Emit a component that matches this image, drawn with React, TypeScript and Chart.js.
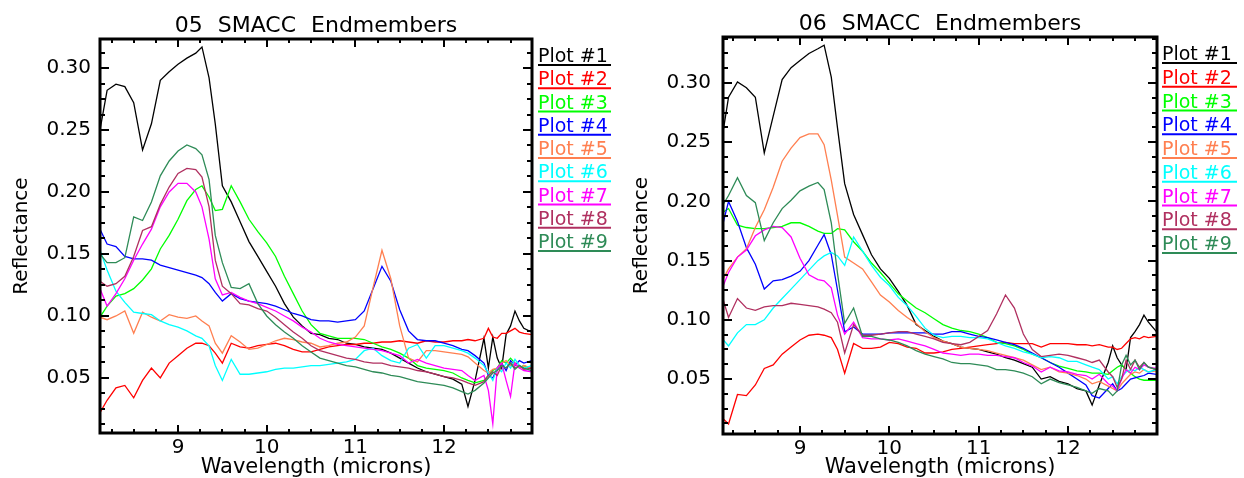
import React, { useEffect, useRef } from "react";
import { Chart, registerables } from "chart.js";

Chart.register(...registerables);

// ---------------- data ----------------
const WAVELENGTHS = [
  8.12, 8.2, 8.3, 8.4, 8.5, 8.6, 8.7, 8.8, 8.9, 9.0, 9.1, 9.2, 9.27, 9.35, 9.42,
  9.5, 9.6, 9.7, 9.8, 9.9, 10.0, 10.1, 10.2, 10.3, 10.4, 10.5, 10.6, 10.7, 10.8,
  10.9, 11.0, 11.1, 11.2, 11.3, 11.4, 11.5, 11.6, 11.7, 11.8, 11.9, 12.0, 12.1,
  12.2, 12.27, 12.35, 12.45, 12.5, 12.55, 12.6, 12.65, 12.7, 12.75, 12.8, 12.85,
  12.9, 12.99,
];

const SERIES_LABELS = ["Plot #1", "Plot #2", "Plot #3", "Plot #4", "Plot #5", "Plot #6", "Plot #7", "Plot #8", "Plot #9"];
const SERIES_COLORS = ["#000000", "#ff0000", "#00ff00", "#0000ff", "#ff7f50", "#00ffff", "#ff00ff", "#b03060", "#2e8b57"];

const X_TICKS_STEP = 1;
const Y_TICKS_STEP = 0.05;

// 05 SMACC Endmembers
const S05_PLOT1 = [0.250, 0.282, 0.287, 0.285, 0.272, 0.234, 0.255, 0.290, 0.297, 0.303, 0.308, 0.312, 0.317, 0.292, 0.255, 0.205, 0.192, 0.176, 0.160, 0.148, 0.136, 0.124, 0.110, 0.099, 0.092, 0.086, 0.085, 0.082, 0.081, 0.078, 0.077, 0.075, 0.074, 0.073, 0.070, 0.066, 0.062, 0.058, 0.055, 0.053, 0.051, 0.049, 0.045, 0.027, 0.048, 0.082, 0.058, 0.083, 0.066, 0.058, 0.085, 0.092, 0.104, 0.096, 0.090, 0.087];
const S05_PLOT2 = [0.022, 0.032, 0.042, 0.044, 0.034, 0.048, 0.058, 0.050, 0.062, 0.068, 0.074, 0.078, 0.078, 0.076, 0.070, 0.062, 0.078, 0.075, 0.074, 0.076, 0.077, 0.078, 0.076, 0.073, 0.071, 0.071, 0.073, 0.075, 0.076, 0.077, 0.077, 0.078, 0.078, 0.079, 0.079, 0.080, 0.079, 0.078, 0.080, 0.079, 0.079, 0.080, 0.080, 0.081, 0.080, 0.082, 0.090, 0.083, 0.082, 0.086, 0.086, 0.088, 0.090, 0.087, 0.086, 0.085];
const S05_PLOT3 = [0.099, 0.108, 0.116, 0.118, 0.122, 0.129, 0.138, 0.154, 0.165, 0.178, 0.193, 0.202, 0.205, 0.196, 0.185, 0.186, 0.205, 0.192, 0.178, 0.168, 0.159, 0.148, 0.132, 0.118, 0.104, 0.093, 0.086, 0.084, 0.082, 0.082, 0.082, 0.081, 0.078, 0.075, 0.073, 0.070, 0.066, 0.060, 0.058, 0.057, 0.056, 0.054, 0.050, 0.048, 0.046, 0.048, 0.052, 0.056, 0.058, 0.064, 0.062, 0.066, 0.062, 0.058, 0.060, 0.057];
const S05_PLOT4 = [0.170, 0.158, 0.156, 0.148, 0.146, 0.146, 0.145, 0.141, 0.139, 0.137, 0.135, 0.133, 0.131, 0.126, 0.119, 0.112, 0.118, 0.114, 0.112, 0.111, 0.110, 0.108, 0.105, 0.102, 0.100, 0.097, 0.096, 0.096, 0.095, 0.096, 0.097, 0.104, 0.122, 0.140, 0.128, 0.105, 0.088, 0.081, 0.080, 0.080, 0.078, 0.076, 0.073, 0.072, 0.068, 0.062, 0.052, 0.050, 0.058, 0.062, 0.056, 0.064, 0.060, 0.064, 0.062, 0.064];
const S05_PLOT5 = [0.099, 0.097, 0.100, 0.104, 0.086, 0.103, 0.099, 0.096, 0.101, 0.099, 0.098, 0.100, 0.096, 0.092, 0.078, 0.070, 0.084, 0.079, 0.073, 0.074, 0.077, 0.080, 0.082, 0.081, 0.079, 0.078, 0.075, 0.076, 0.078, 0.079, 0.083, 0.092, 0.123, 0.153, 0.130, 0.092, 0.066, 0.063, 0.072, 0.072, 0.071, 0.070, 0.069, 0.067, 0.062, 0.056, 0.054, 0.057, 0.058, 0.062, 0.064, 0.060, 0.062, 0.058, 0.060, 0.058];
const S05_PLOT6 = [0.153, 0.137, 0.120, 0.111, 0.103, 0.102, 0.101, 0.096, 0.093, 0.091, 0.088, 0.084, 0.082, 0.076, 0.060, 0.048, 0.065, 0.053, 0.053, 0.054, 0.055, 0.057, 0.058, 0.058, 0.059, 0.060, 0.060, 0.061, 0.062, 0.063, 0.065, 0.072, 0.074, 0.068, 0.064, 0.062, 0.074, 0.077, 0.066, 0.076, 0.076, 0.074, 0.072, 0.070, 0.066, 0.060, 0.054, 0.048, 0.058, 0.055, 0.062, 0.058, 0.065, 0.060, 0.058, 0.060];
const S05_PLOT7 = [0.122, 0.108, 0.118, 0.130, 0.145, 0.158, 0.170, 0.188, 0.200, 0.207, 0.207, 0.200, 0.188, 0.162, 0.130, 0.117, 0.119, 0.115, 0.112, 0.110, 0.107, 0.104, 0.100, 0.096, 0.091, 0.087, 0.082, 0.079, 0.077, 0.076, 0.075, 0.074, 0.073, 0.072, 0.070, 0.068, 0.062, 0.065, 0.062, 0.060, 0.058, 0.057, 0.056, 0.052, 0.048, 0.052, 0.040, 0.013, 0.058, 0.062, 0.048, 0.035, 0.062, 0.058, 0.056, 0.055];
const S05_PLOT8 = [0.128, 0.124, 0.126, 0.132, 0.148, 0.169, 0.172, 0.190, 0.204, 0.215, 0.219, 0.218, 0.212, 0.188, 0.145, 0.124, 0.118, 0.110, 0.109, 0.106, 0.104, 0.099, 0.093, 0.087, 0.082, 0.076, 0.072, 0.070, 0.068, 0.066, 0.065, 0.063, 0.062, 0.062, 0.060, 0.059, 0.058, 0.056, 0.055, 0.053, 0.051, 0.050, 0.048, 0.046, 0.044, 0.047, 0.052, 0.055, 0.052, 0.060, 0.058, 0.062, 0.058, 0.060, 0.057, 0.058];
const S05_PLOT9 = [0.150, 0.143, 0.143, 0.147, 0.180, 0.177, 0.192, 0.213, 0.225, 0.233, 0.238, 0.235, 0.230, 0.210, 0.165, 0.143, 0.123, 0.122, 0.126, 0.110, 0.100, 0.093, 0.087, 0.082, 0.076, 0.071, 0.066, 0.064, 0.062, 0.060, 0.059, 0.057, 0.055, 0.054, 0.052, 0.051, 0.049, 0.047, 0.046, 0.045, 0.044, 0.042, 0.039, 0.037, 0.040, 0.046, 0.050, 0.054, 0.056, 0.060, 0.058, 0.062, 0.057, 0.060, 0.058, 0.056];

// 06 SMACC Endmembers
const S06_PLOT1 = [0.250, 0.288, 0.301, 0.296, 0.288, 0.241, 0.272, 0.303, 0.313, 0.319, 0.325, 0.329, 0.332, 0.305, 0.262, 0.215, 0.189, 0.172, 0.155, 0.143, 0.135, 0.124, 0.112, 0.096, 0.091, 0.086, 0.082, 0.080, 0.077, 0.076, 0.075, 0.073, 0.071, 0.068, 0.066, 0.063, 0.060, 0.050, 0.052, 0.048, 0.046, 0.042, 0.040, 0.028, 0.045, 0.064, 0.078, 0.068, 0.062, 0.058, 0.085, 0.090, 0.096, 0.104, 0.098, 0.090];
const S06_PLOT2 = [0.018, 0.012, 0.037, 0.036, 0.045, 0.059, 0.062, 0.071, 0.077, 0.083, 0.087, 0.088, 0.087, 0.085, 0.075, 0.055, 0.080, 0.076, 0.076, 0.077, 0.081, 0.080, 0.077, 0.076, 0.072, 0.072, 0.073, 0.075, 0.076, 0.077, 0.078, 0.079, 0.080, 0.081, 0.080, 0.080, 0.080, 0.077, 0.080, 0.080, 0.080, 0.079, 0.079, 0.078, 0.079, 0.077, 0.077, 0.075, 0.076, 0.080, 0.084, 0.085, 0.084, 0.086, 0.085, 0.086];
const S06_PLOT3 = [0.190, 0.194, 0.180, 0.178, 0.177, 0.177, 0.178, 0.179, 0.182, 0.182, 0.179, 0.175, 0.173, 0.173, 0.177, 0.176, 0.166, 0.158, 0.148, 0.140, 0.131, 0.122, 0.116, 0.110, 0.106, 0.101, 0.096, 0.093, 0.091, 0.090, 0.088, 0.085, 0.081, 0.080, 0.078, 0.075, 0.071, 0.068, 0.064, 0.061, 0.059, 0.057, 0.056, 0.055, 0.055, 0.054, 0.057, 0.060, 0.062, 0.058, 0.055, 0.052, 0.050, 0.049, 0.049, 0.049];
const S06_PLOT4 = [0.176, 0.200, 0.183, 0.161, 0.147, 0.126, 0.133, 0.134, 0.137, 0.141, 0.150, 0.163, 0.172, 0.155, 0.125, 0.090, 0.094, 0.088, 0.088, 0.088, 0.089, 0.089, 0.089, 0.089, 0.089, 0.088, 0.088, 0.090, 0.090, 0.088, 0.086, 0.085, 0.083, 0.081, 0.079, 0.076, 0.072, 0.068, 0.064, 0.060, 0.055, 0.050, 0.045, 0.036, 0.034, 0.042, 0.046, 0.040, 0.042, 0.046, 0.050, 0.051, 0.052, 0.053, 0.055, 0.054];
const S06_PLOT5 = [0.132, 0.143, 0.153, 0.160, 0.178, 0.193, 0.212, 0.234, 0.245, 0.254, 0.257, 0.257, 0.248, 0.218, 0.188, 0.153, 0.148, 0.143, 0.132, 0.121, 0.115, 0.108, 0.102, 0.097, 0.090, 0.085, 0.082, 0.080, 0.077, 0.076, 0.075, 0.074, 0.072, 0.070, 0.068, 0.066, 0.062, 0.058, 0.060, 0.056, 0.055, 0.053, 0.050, 0.046, 0.048, 0.044, 0.042, 0.040, 0.046, 0.050, 0.054, 0.056, 0.055, 0.058, 0.056, 0.057];
const S06_PLOT6 = [0.085, 0.078, 0.089, 0.096, 0.096, 0.100, 0.110, 0.118, 0.126, 0.134, 0.142, 0.150, 0.154, 0.157, 0.154, 0.146, 0.170, 0.158, 0.146, 0.136, 0.129, 0.119, 0.112, 0.103, 0.093, 0.087, 0.085, 0.086, 0.086, 0.085, 0.085, 0.084, 0.081, 0.078, 0.076, 0.073, 0.071, 0.068, 0.069, 0.068, 0.065, 0.065, 0.062, 0.060, 0.058, 0.050, 0.052, 0.046, 0.052, 0.056, 0.058, 0.057, 0.060, 0.058, 0.056, 0.058];
const S06_PLOT7 = [0.125, 0.140, 0.153, 0.159, 0.171, 0.176, 0.179, 0.178, 0.170, 0.152, 0.138, 0.134, 0.133, 0.127, 0.104, 0.088, 0.098, 0.085, 0.084, 0.084, 0.083, 0.084, 0.082, 0.080, 0.078, 0.075, 0.072, 0.071, 0.070, 0.071, 0.071, 0.070, 0.070, 0.069, 0.068, 0.064, 0.061, 0.056, 0.060, 0.057, 0.056, 0.054, 0.053, 0.050, 0.054, 0.046, 0.044, 0.040, 0.050, 0.058, 0.055, 0.060, 0.058, 0.062, 0.060, 0.059];
const S06_PLOT8 = [0.122, 0.102, 0.118, 0.110, 0.108, 0.111, 0.112, 0.112, 0.114, 0.113, 0.112, 0.111, 0.109, 0.106, 0.098, 0.072, 0.096, 0.087, 0.087, 0.088, 0.089, 0.090, 0.090, 0.088, 0.086, 0.084, 0.081, 0.080, 0.079, 0.081, 0.086, 0.091, 0.105, 0.121, 0.110, 0.088, 0.075, 0.069, 0.070, 0.071, 0.070, 0.068, 0.066, 0.064, 0.066, 0.056, 0.052, 0.043, 0.050, 0.066, 0.058, 0.066, 0.060, 0.064, 0.060, 0.058];
const S06_PLOT9 = [0.195, 0.205, 0.220, 0.205, 0.199, 0.167, 0.182, 0.194, 0.201, 0.209, 0.213, 0.216, 0.210, 0.182, 0.139, 0.097, 0.110, 0.086, 0.086, 0.084, 0.083, 0.081, 0.078, 0.074, 0.071, 0.069, 0.067, 0.064, 0.063, 0.063, 0.062, 0.061, 0.058, 0.058, 0.057, 0.055, 0.052, 0.046, 0.050, 0.047, 0.045, 0.043, 0.040, 0.038, 0.042, 0.040, 0.036, 0.040, 0.062, 0.070, 0.062, 0.066, 0.058, 0.064, 0.060, 0.058];

const SERIES_05 = [S05_PLOT1, S05_PLOT2, S05_PLOT3, S05_PLOT4, S05_PLOT5, S05_PLOT6, S05_PLOT7, S05_PLOT8, S05_PLOT9];
const SERIES_06 = [S06_PLOT1, S06_PLOT2, S06_PLOT3, S06_PLOT4, S06_PLOT5, S06_PLOT6, S06_PLOT7, S06_PLOT8, S06_PLOT9];

// ---------------- drawing helpers ----------------
const FONT = '"DejaVu Sans", "Liberation Sans", sans-serif';

const decorPlugin = {
  id: "idlDecor",
  afterDraw(chart: any, _args: any, opts: any) {
    const { ctx, chartArea: a } = chart;
    const xs = chart.scales.x;
    const ys = chart.scales.y;
    ctx.save();
    ctx.strokeStyle = "#000";
    ctx.lineCap = "butt";

    // tick marks, all four sides, pointing inward
    ctx.lineWidth = 2;
    ctx.beginPath();
    const xMinorStep = X_TICKS_STEP / 4;
    const xStart = Math.ceil(xs.min / xMinorStep - 1e-9) * xMinorStep;
    for (let k = 0; ; k++) {
      const v = xStart + k * xMinorStep;
      if (v > xs.max + 1e-9) break;
      const px = Math.round(xs.getPixelForValue(v)) + 0.0;
      const major = Math.abs(v / X_TICKS_STEP - Math.round(v / X_TICKS_STEP)) < 1e-6;
      const len = major ? 8 : 4;
      ctx.moveTo(px, a.bottom);
      ctx.lineTo(px, a.bottom - len);
      ctx.moveTo(px, a.top);
      ctx.lineTo(px, a.top + len);
    }
    const yMinorStep = Y_TICKS_STEP / 4;
    const yStart = Math.ceil(ys.min / yMinorStep - 1e-9) * yMinorStep;
    for (let k = 0; ; k++) {
      const v = yStart + k * yMinorStep;
      if (v > ys.max + 1e-9) break;
      const py = Math.round(ys.getPixelForValue(v));
      const major = Math.abs(v / Y_TICKS_STEP - Math.round(v / Y_TICKS_STEP)) < 1e-6;
      const len = major ? 9 : 5;
      ctx.moveTo(a.left, py);
      ctx.lineTo(a.left + len, py);
      ctx.moveTo(a.right, py);
      ctx.lineTo(a.right - len, py);
    }
    ctx.stroke();

    // plot box
    ctx.lineWidth = 3;
    ctx.strokeRect(a.left, a.top, a.right - a.left, a.bottom - a.top);

    // chart title
    ctx.fillStyle = "#000";
    ctx.textAlign = "center";
    ctx.textBaseline = "alphabetic";
    ctx.font = `22px ${FONT}`;
    (ctx as any).wordSpacing = "8px";
    ctx.fillText(opts.title, (a.left + a.right) / 2, a.top - opts.titleGap);
    (ctx as any).wordSpacing = "0px";

    // x axis title
    ctx.font = `21px ${FONT}`;
    ctx.fillText(opts.xTitle, (a.left + a.right) / 2, a.bottom + opts.xTitleGap);

    // y axis title
    ctx.save();
    ctx.font = `20px ${FONT}`;
    ctx.translate(opts.yTitleX, (a.top + a.bottom) / 2);
    ctx.rotate(-Math.PI / 2);
    ctx.fillText(opts.yTitle, 0, 0);
    ctx.restore();

    // legend: coloured label with underline
    ctx.textAlign = "left";
    ctx.font = `19px ${FONT}`;
    const x0 = a.right + opts.legendGap;
    chart.data.datasets.forEach((ds: any, i: number) => {
      const y = opts.legendTop + i * opts.legendStep;
      ctx.fillStyle = ds.borderColor;
      ctx.fillText(ds.label, x0, y - 3);
      ctx.strokeStyle = ds.borderColor;
      ctx.lineWidth = 2;
      ctx.beginPath();
      ctx.moveTo(x0, y);
      ctx.lineTo(x0 + opts.legendWidth, y);
      ctx.stroke();
    });
    ctx.restore();
  },
};

function buildDatasets(series: number[][]) {
  return series.map((vals, i) => ({
    label: SERIES_LABELS[i],
    data: WAVELENGTHS.map((w, k) => ({ x: w, y: vals[k] })),
    borderColor: SERIES_COLORS[i],
    backgroundColor: SERIES_COLORS[i],
    borderWidth: 1.3,
    pointRadius: 0,
    pointHoverRadius: 0,
    tension: 0,
    fill: false,
    order: -i,
  }));
}

type Cfg = {
  left: number;
  title: string;
  series: number[][];
  xMin: number;
  xMax: number;
  yMin: number;
  yMax: number;
  padTop: number;
  padRight: number;
  yAxisWidth: number;
  xAxisHeight: number;
  yTickPad: number;
  xTickPad: number;
  titleGap: number;
  xTitleGap: number;
  yTitleX: number;
  legendGap: number;
  legendTop: number;
  legendStep: number;
  legendWidth: number;
};

function SpectraChart({ cfg }: { cfg: Cfg }) {
  const ref = useRef<HTMLCanvasElement>(null);
  useEffect(() => {
    const tickFont = { family: FONT, size: 20 };
    const chart = new Chart(ref.current as HTMLCanvasElement, {
      type: "line",
      data: { datasets: buildDatasets(cfg.series) as any },
      options: {
        animation: false,
        responsive: false,
        devicePixelRatio: 1,
        events: [],
        layout: { padding: { left: 0, top: cfg.padTop, right: cfg.padRight, bottom: 0 } },
        plugins: {
          legend: { display: false },
          tooltip: { enabled: false },
          title: { display: false },
          idlDecor: {
            title: cfg.title,
            xTitle: "Wavelength (microns)",
            yTitle: "Reflectance",
            titleGap: cfg.titleGap,
            xTitleGap: cfg.xTitleGap,
            yTitleX: cfg.yTitleX,
            legendGap: cfg.legendGap,
            legendTop: cfg.legendTop,
            legendStep: cfg.legendStep,
            legendWidth: cfg.legendWidth,
          },
        } as any,
        scales: {
          x: {
            type: "linear",
            min: cfg.xMin,
            max: cfg.xMax,
            grid: { display: false, drawTicks: false },
            border: { display: false },
            ticks: {
              stepSize: X_TICKS_STEP,
              includeBounds: false,
              autoSkip: false,
              maxRotation: 0,
              padding: cfg.xTickPad,
              color: "#000",
              font: tickFont,
              callback: (v: any) => String(Math.round(Number(v))),
            },
            afterFit: (s: any) => {
              s.height = cfg.xAxisHeight;
            },
          },
          y: {
            type: "linear",
            min: cfg.yMin,
            max: cfg.yMax,
            grid: { display: false, drawTicks: false },
            border: { display: false },
            ticks: {
              stepSize: Y_TICKS_STEP,
              includeBounds: false,
              autoSkip: false,
              padding: cfg.yTickPad,
              color: "#000",
              font: tickFont,
              callback: (v: any) => Number(v).toFixed(2),
            },
            afterFit: (s: any) => {
              s.width = cfg.yAxisWidth;
            },
          },
        },
      },
      plugins: [decorPlugin as any],
    });
    return () => chart.destroy();
  }, [cfg]);
  return (
    <canvas
      ref={ref}
      width={622}
      height={478}
      style={{ position: "absolute", left: cfg.left, top: 0, width: 622, height: 478, display: "block" }}
    />
  );
}

const CFG_05: Cfg = {
  left: 0,
  title: "05 SMACC Endmembers",
  series: SERIES_05,
  xMin: 8.12,
  xMax: 12.992,
  yMin: 0.0056,
  yMax: 0.3234,
  padTop: 39,
  padRight: 90,
  yAxisWidth: 100,
  xAxisHeight: 45,
  yTickPad: 9,
  xTickPad: 3,
  titleGap: 7,
  xTitleGap: 40,
  yTitleX: 27,
  legendGap: 6,
  legendTop: 65,
  legendStep: 23.25,
  legendWidth: 73,
};

const CFG_06: Cfg = {
  left: 622,
  title: "06 SMACC Endmembers",
  series: SERIES_06,
  xMin: 8.138,
  xMax: 12.996,
  yMin: 0.0036,
  yMax: 0.3389,
  padTop: 37,
  padRight: 87,
  yAxisWidth: 101,
  xAxisHeight: 44,
  yTickPad: 12,
  xTickPad: 3,
  titleGap: 7,
  xTitleGap: 39,
  yTitleX: 25,
  legendGap: 5,
  legendTop: 63,
  legendStep: 23.75,
  legendWidth: 75,
};

export default function App() {
  return (
    <div style={{ position: "fixed", left: 0, top: 0, width: 1244, height: 478, background: "#fff", overflow: "hidden" }}>
      <SpectraChart cfg={CFG_05} />
      <SpectraChart cfg={CFG_06} />
    </div>
  );
}
